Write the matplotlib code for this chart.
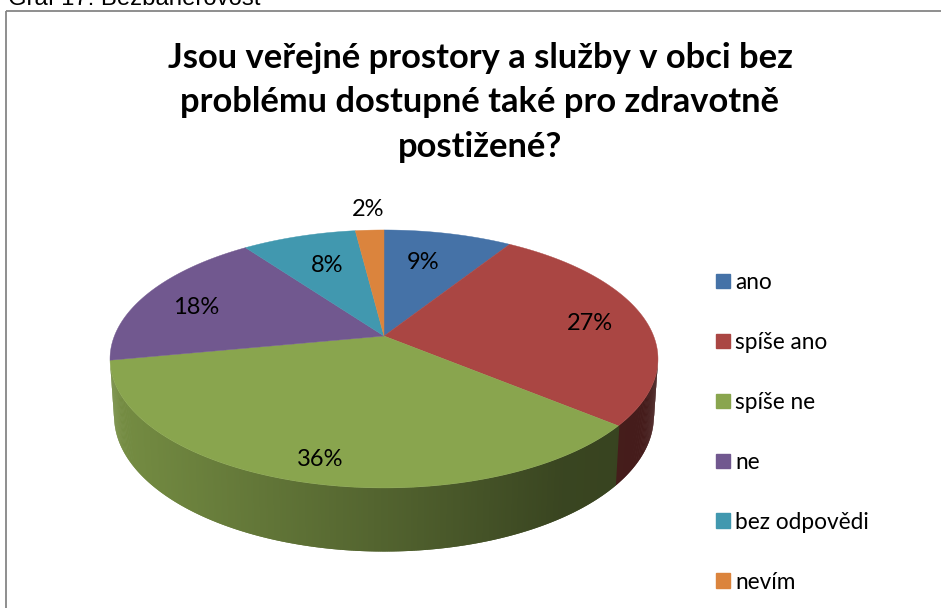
import numpy as np
import matplotlib
matplotlib.use("Agg")
import matplotlib.pyplot as plt
from matplotlib.patches import Polygon, Rectangle, Patch

categories = ["ano", "spíše ano", "spíše ne", "ne", "bez odpovědi", "nevím"]
values = [9, 27, 36, 18, 8, 2]
labels = ["9%", "27%", "36%", "18%", "8%", "2%"]
colors = ["#4572A7", "#AA4643", "#89A54E", "#71588F", "#4198AF", "#DB843D"]
title_lines = "Jsou veřejné prostory a služby v obci bez\nproblému dostupné také pro zdravotně\npostižené?"
caption = "Graf 17: Bezbariérovost"

# Projection of the unit disc on to the page (perspective view)
CX, CY = 384.0, 336.0
A, B, K = 269.6, 124.9, 0.178
WALL_SX, WALL_SY, WALL_D = 0.985, 1.05, 56.0
STEP = np.radians(0.4)


def top_xy(theta):
    u, v = np.sin(theta), np.cos(theta)
    d = 1 + K * v
    return A * u / d, B * v / d


def to_page(dx, dy, lower=False):
    if lower:
        return CX + dx * WALL_SX, CY - dy * WALL_SY + WALL_D
    return CX + dx, CY - dy


def shade(x):
    return np.interp(x, [110, 384, 560, 660], [0.86, 0.60, 0.42, 0.40])


fig = plt.figure(figsize=(9.41, 6.08), dpi=100, facecolor="white")
ax = fig.add_axes([0, 0, 1, 1])
ax.set_xlim(0, 941)
ax.set_ylim(608, 0)
ax.axis("off")

ax.add_patch(Rectangle((6.5, 11), 1000, 700, fill=False, ec="#868686", lw=1.3))

fractions = np.cumsum([0] + values) / sum(values)
for i, col in enumerate(colors):
    t0, t1 = 2 * np.pi * fractions[i], 2 * np.pi * fractions[i + 1]
    rgb = np.array(matplotlib.colors.to_rgb(col))
    grid = np.append(np.arange(t0, t1, STEP), t1)
    # wall strips on the visible front side, each one overlapping the last
    for a, b in zip(grid[:-1], grid[1:]):
        if np.cos(0.5 * (a + b)) > -0.19:
            continue
        a0 = a - STEP
        pts = [to_page(*top_xy(t), lower=low) for t, low in ((a0, False), (b, False), (b, True), (a0, True))]
        xm = np.mean([p[0] for p in pts])
        ax.add_patch(Polygon(pts, closed=True, fc=rgb * shade(xm), ec="none", lw=0, zorder=2))

for i, col in enumerate(colors):
    t0, t1 = 2 * np.pi * fractions[i], 2 * np.pi * fractions[i + 1]
    t = np.linspace(t0, t1, 200)
    px, py = to_page(*top_xy(t))
    pts = np.column_stack([np.r_[CX, px], np.r_[CY, py]])
    ax.add_patch(Polygon(pts, closed=True, fc=col, ec=col, lw=0.3, zorder=3))

label_pos = [(423, 262.5), (590, 323), (320, 459.5), (196, 307), (327, 265.5), (368, 210)]
for s, (x, y) in zip(labels, label_pos):
    ax.text(x, y, s, fontsize=17, family="Lato", ha="center", va="center", color="black", zorder=5)

ax.text(480, 102.5, title_lines, fontsize=24.8, family="Lato", weight="bold", ha="center", va="center",
        linespacing=1.48, color="black", zorder=5)
ax.text(8, 5, caption, fontsize=17.2, family="Liberation Sans", ha="left", va="baseline", color="black")

handles = [Patch(fc=c, ec=c) for c in colors]
leg = ax.legend(handles, categories, loc="upper left", bbox_to_anchor=(716 / 941, 1 - 272 / 608),
                frameon=False, prop={"family": "Lato", "size": 16.3}, labelspacing=1.72,
                handlelength=0.62, handleheight=0.62, handletextpad=0.24, borderpad=0, borderaxespad=0)
fig.savefig("out.png", dpi=100)
